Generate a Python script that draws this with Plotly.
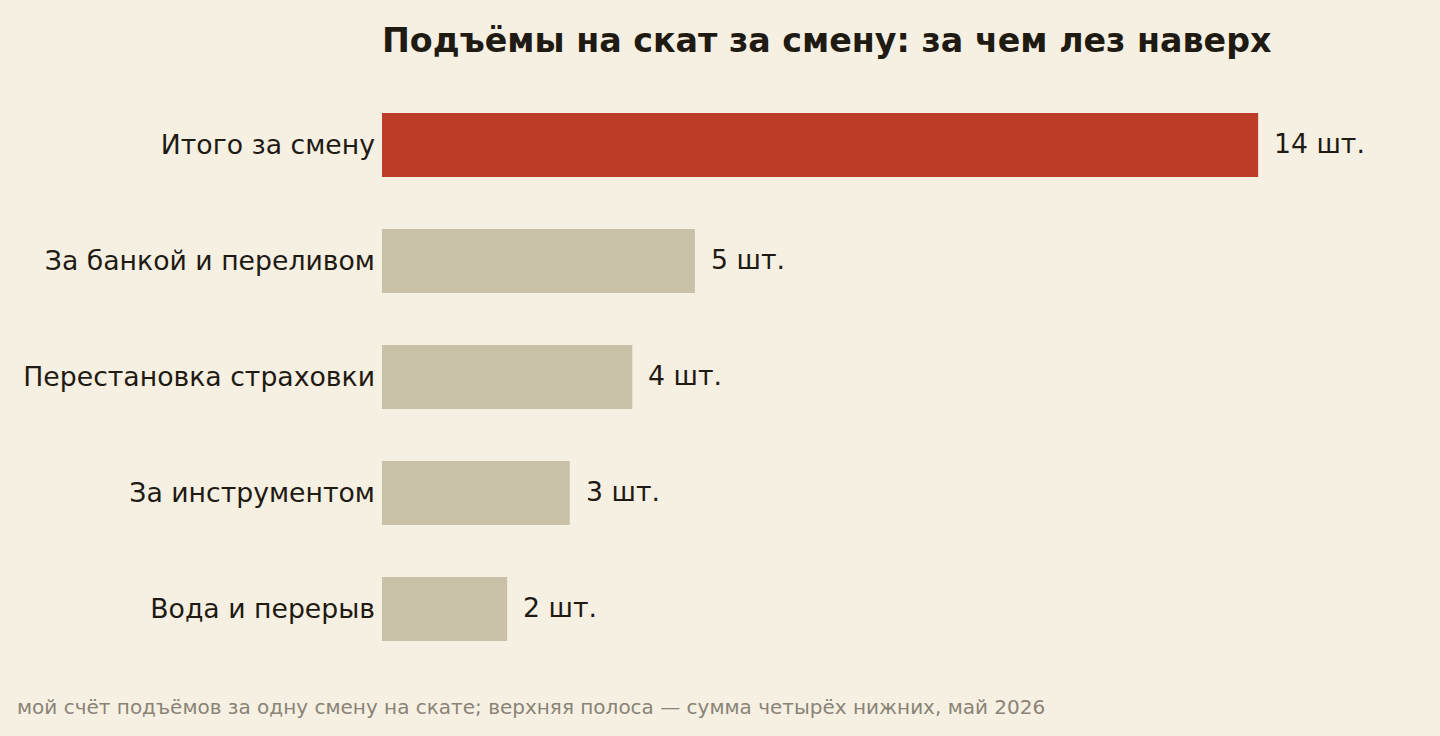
import plotly.graph_objects as go

# categories top to bottom, values in pieces
categories = [
    "Итого за смену",
    "За банкой и переливом",
    "Перестановка страховки",
    "За инструментом",
    "Вода и перерыв",
]
counts = [14, 5, 4, 3, 2]
unit = "шт."

TITLE = "Подъёмы на скат за смену: за чем лез наверх"
NOTE = "мой счёт подъёмов за одну смену на скате; верхняя полоса — сумма четырёх нижних, май 2026"

BG = "#f6f0e3"
INK = "#1f1a12"
RED = "#bc3c27"
SAND = "#c9c0a8"
FONT = "DejaVu Sans"

colors = [RED] + [SAND] * (len(counts) - 1)

fig = go.Figure(
    go.Bar(
        x=counts,
        y=categories,
        orientation="h",
        marker=dict(color=colors, line=dict(width=0)),
        width=0.55,
        hoverinfo="skip",
    )
)

# value labels just past the bar ends
for cat, val in zip(categories, counts):
    fig.add_annotation(
        x=val, y=cat, text=f"{val} {unit}", xref="x", yref="y",
        xanchor="left", yanchor="middle", xshift=14, yshift=2, showarrow=False,
        font=dict(family=FONT, size=26.7, color=INK),
    )

fig.add_annotation(
    text=NOTE, xref="paper", yref="paper", x=0, y=0, xanchor="left", yanchor="middle",
    xshift=-367, yshift=-40, showarrow=False,
    font=dict(family=FONT, size=20, color="#8a8376"),
)

fig.update_layout(
    width=1440, height=736,
    paper_bgcolor=BG, plot_bgcolor=BG,
    margin=dict(l=382, r=88, t=87, b=69),
    showlegend=False,
    title=dict(
        text=f"<b>{TITLE}</b>", x=382 / 1440, xanchor="left", y=1 - 40 / 736, yanchor="middle",
        font=dict(family=FONT, size=33.3, color=INK),
    ),
    font=dict(family=FONT, color=INK),
)
fig.update_xaxes(range=[0, 15.5], visible=False, fixedrange=True)
fig.update_yaxes(
    autorange="reversed", showgrid=False, showline=False, zeroline=False, ticks="",
    tickfont=dict(family=FONT, size=26.7, color=INK), ticklabelstandoff=6, fixedrange=True,
)

# drop the browser's default body margin so the figure sits at the page corner
fig.write_html(
    "out.html",
    config={"displayModeBar": False},
    post_script="document.body.style.margin = '0';",
)
